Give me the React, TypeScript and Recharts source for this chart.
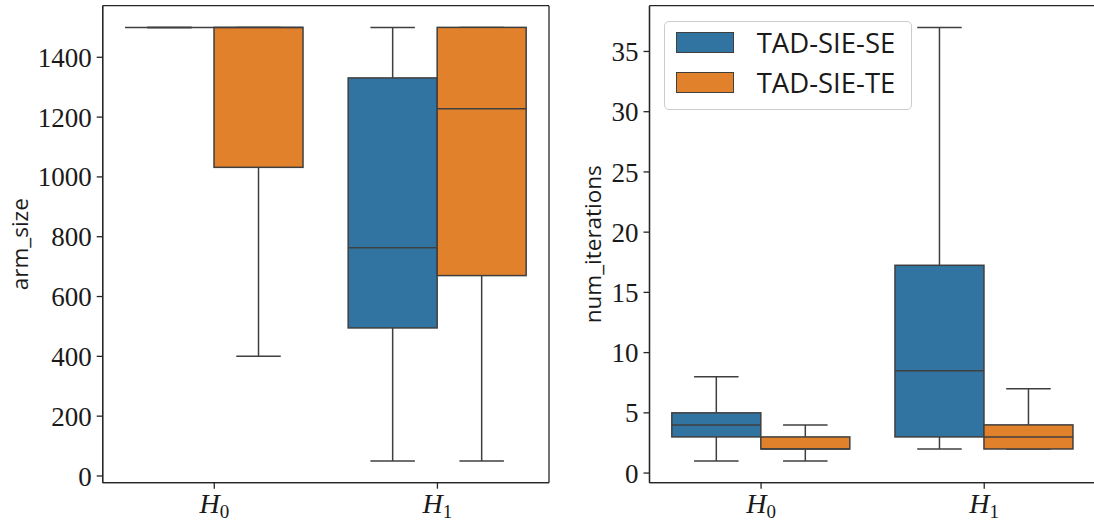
import React from 'react';
import { BarChart, Bar, XAxis, YAxis, Legend, CartesianGrid } from 'recharts';

const categories = ['H_0', 'H_1'];
const seriesNames = ['TAD-SIE-SE', 'TAD-SIE-TE'];
const seriesColors = ['#3274a1', '#e1812c'];
// five-number summaries per category: [min, q1, median, q3, max]
const armSizeSE = [
  [1500, 1500, 1500, 1500, 1500],
  [50, 495, 763, 1331, 1500],
];
const armSizeTE = [
  [400, 1032, 1500, 1500, 1500],
  [50, 670, 1228, 1500, 1500],
];
const iterSE = [
  [1, 3, 4, 5, 8],
  [2, 3, 8.5, 17.25, 37],
];
const iterTE = [
  [1, 2, 2, 3, 4],
  [2, 2, 3, 4, 7],
];
const armTicks = [0, 200, 400, 600, 800, 1000, 1200, 1400];
const iterTicks = [0, 5, 10, 15, 20, 25, 30, 35];
const armDomain = [-22.5, 1572.5];
const iterDomain = [-0.8, 38.8];

const EDGE = '#3f3f3f';
const SPINE = '#262626';
const TEXT = '#1a1a1a';

function buildRows(se: number[][], te: number[][]) {
  return categories.map((c, i) => ({
    cat: c,
    se: [se[i][0], se[i][4]],
    te: [te[i][0], te[i][4]],
    seStats: se[i],
    teStats: te[i],
  }));
}

const armRows = buildRows(armSizeSE, armSizeTE);
const iterRows = buildRows(iterSE, iterTE);

function BoxShape(props: any) {
  const { x, y, width, height, payload, statsKey, color } = props;
  const s = payload[statsKey];
  const [mn, q1, md, q3, mx] = s;
  const top = Math.min(y, y + height);
  const bot = Math.max(y, y + height);
  const pix = (v: number) => (mx === mn ? top : bot - ((bot - top) * (v - mn)) / (mx - mn));
  const cx = x + width / 2;
  const capL = cx - width / 4;
  const capR = cx + width / 4;
  const ls = { stroke: EDGE, strokeWidth: 1.5 };
  return (
    <g>
      <line x1={cx} x2={cx} y1={pix(mx)} y2={pix(q3)} {...ls} />
      <line x1={cx} x2={cx} y1={pix(q1)} y2={pix(mn)} {...ls} />
      <line x1={capL} x2={capR} y1={pix(mx)} y2={pix(mx)} {...ls} />
      <line x1={capL} x2={capR} y1={pix(mn)} y2={pix(mn)} {...ls} />
      <rect x={x} y={pix(q3)} width={width} height={Math.max(0, pix(q1) - pix(q3))} fill={color} {...ls} />
      <line x1={x} x2={x + width} y1={pix(md)} y2={pix(md)} {...ls} />
    </g>
  );
}

function MathTick(props: any) {
  const { x, y, payload } = props;
  const [base, sub] = String(payload.value).split('_');
  return (
    <text x={x} y={y + 22.5} textAnchor="middle" fontFamily="Liberation Serif" fontSize={28} fill={TEXT}>
      <tspan fontStyle="italic">{base}</tspan>
      <tspan fontSize={19} dy={5}>{sub}</tspan>
    </text>
  );
}

const yLabel = (text: string, offsetX: number) => (props: any) => {
  const vb = props.viewBox || { x: 0, y: 0, width: 0, height: 0 };
  const cx = vb.x + offsetX;
  const cy = vb.y + vb.height / 2;
  return (
    <text x={cx} y={cy} transform={`rotate(-90 ${cx} ${cy})`} textAnchor="middle" fontFamily="Open Sans" fontSize={22.5} fill={TEXT}>
      {text}
    </text>
  );
};

function LegendBox() {
  return (
    <div
      style={{
        boxSizing: 'border-box',
        width: 248,
        height: 89,
        border: '1px solid #cccccc',
        borderRadius: 5,
        background: 'rgba(255,255,255,0.8)',
        padding: '10px 0 0 10.4px',
      }}
    >
      {seriesNames.map((n, i) => (
        <div key={n} style={{ display: 'flex', alignItems: 'center', height: 21, marginBottom: 19 }}>
          <div
            style={{
              width: 58,
              height: 21,
              boxSizing: 'border-box',
              background: seriesColors[i],
              border: `1.5px solid ${EDGE}`,
            }}
          />
          <span style={{ marginLeft: 23, fontFamily: 'Open Sans', fontSize: 27.5, color: TEXT, lineHeight: '21px', whiteSpace: 'nowrap' }}>
            {n}
          </span>
        </div>
      ))}
    </div>
  );
}

function Panel(props: any) {
  const { rows, domain, ticks, yWidth, label, labelX, width, marginRight, legend, legendLeft } = props;
  const axisLine = { stroke: SPINE, strokeWidth: 1.3 };
  return (
    <BarChart
      width={width}
      height={523}
      data={rows}
      margin={{ top: 5.7, right: marginRight, bottom: 0, left: 0 }}
      barCategoryGap="10%"
      barGap={0}
    >
      <CartesianGrid
        stroke={SPINE}
        strokeWidth={1.3}
        horizontalCoordinatesGenerator={(a: any) => [a.offset.top, a.offset.top + a.offset.height]}
        verticalCoordinatesGenerator={(a: any) => [a.offset.left, a.offset.left + a.offset.width]}
      />
      <XAxis
        dataKey="cat"
        tick={(p: any) => <MathTick {...p} />}
        tickSize={6}
        tickLine={axisLine}
        axisLine={axisLine}
        height={40.3}
        interval={0}
      />
      <YAxis
        type="number"
        domain={domain}
        ticks={ticks}
        allowDataOverflow
        interval={0}
        width={yWidth}
        tickSize={6}
        tickMargin={5}
        tickLine={axisLine}
        axisLine={axisLine}
        tick={{ fontFamily: 'Liberation Serif', fontSize: 27, fill: TEXT }}
        label={yLabel(label, labelX)}
      />
      <Bar
        dataKey="se"
        name={seriesNames[0]}
        fill={seriesColors[0]}
        isAnimationActive={false}
        shape={(p: any) => <BoxShape {...p} statsKey="seStats" color={seriesColors[0]} />}
      />
      <Bar
        dataKey="te"
        name={seriesNames[1]}
        fill={seriesColors[1]}
        isAnimationActive={false}
        shape={(p: any) => <BoxShape {...p} statsKey="teStats" color={seriesColors[1]} />}
      />
      {legend ? (
        <Legend
          layout="vertical"
          align="center"
          verticalAlign="middle"
          content={() => <LegendBox />}
          wrapperStyle={{ left: legendLeft, top: 20.7, width: 'auto', height: 'auto' }}
        />
      ) : null}
    </BarChart>
  );
}

export default function App() {
  return (
    <div style={{ position: 'absolute', left: 0, top: 0, width: 1094, height: 523, background: '#fff', overflow: 'hidden' }}>
      <div style={{ position: 'absolute', left: 0, top: 0 }}>
        <Panel rows={armRows} domain={armDomain} ticks={armTicks} yWidth={102.7} label="arm_size" labelX={28.5} width={560} marginRight={11} legend={false} />
      </div>
      <div style={{ position: 'absolute', left: 560, top: 0 }}>
        <Panel rows={iterRows} domain={iterDomain} ticks={iterTicks} yWidth={89.5} label="num_iterations" labelX={41} width={536} marginRight={0.2} legend={true} legendLeft={104.3} />
      </div>
    </div>
  );
}
